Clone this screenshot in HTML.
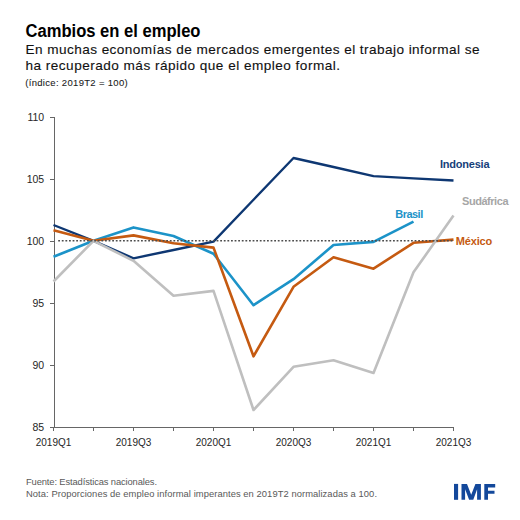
<!DOCTYPE html>
<html><head><meta charset="utf-8"><style>
html,body{margin:0;padding:0;background:#fff;}
svg{display:block;}
text{font-family:"Liberation Sans",sans-serif;}
.ax{stroke:#666;stroke-width:1;}
.tick{font-size:10px;fill:#262626;}
.ytk{font-size:10.5px;}
.hv{stroke-width:0.3px;paint-order:stroke;}
.ln{fill:none;stroke-width:2.6;stroke-linejoin:round;stroke-linecap:butt;}
</style></head><body>
<svg width="520" height="520" viewBox="0 0 520 520">
<rect width="520" height="520" fill="#fff"/>
<text x="25.5" y="36.9" textLength="175" lengthAdjust="spacingAndGlyphs" style="font-size:17.5px;font-weight:bold;" fill="#000">Cambios en el empleo</text>
<text x="25.5" y="53.6" textLength="454" lengthAdjust="spacing" style="font-size:13.6px;font-weight:normal;" fill="#111" stroke="#111" stroke-width="0.12">En muchas economías de mercados emergentes el trabajo informal se</text>
<text x="25.5" y="70.2" textLength="314.5" lengthAdjust="spacing" style="font-size:13.6px;font-weight:normal;" fill="#111" stroke="#111" stroke-width="0.12">ha recuperado más rápido que el empleo formal.</text>
<text x="25.2" y="85.7" textLength="102.5" lengthAdjust="spacing" style="font-size:9.5px;font-weight:normal;" fill="#1a1a1a" stroke="#1a1a1a" stroke-width="0.08">(índice: 2019T2 = 100)</text>
<line x1="54.5" y1="117" x2="54.5" y2="428" class="ax"/>
<line x1="54" y1="427.5" x2="454" y2="427.5" class="ax"/>
<line x1="50" y1="117.5" x2="54.5" y2="117.5" class="ax"/><text x="44.2" y="121.4" text-anchor="end" class="tick ytk">110</text><line x1="50" y1="179.5" x2="54.5" y2="179.5" class="ax"/><text x="44.2" y="183.4" text-anchor="end" class="tick ytk">105</text><line x1="50" y1="241.5" x2="54.5" y2="241.5" class="ax"/><text x="44.2" y="245.4" text-anchor="end" class="tick ytk">100</text><line x1="50" y1="303.5" x2="54.5" y2="303.5" class="ax"/><text x="44.2" y="307.4" text-anchor="end" class="tick ytk">95</text><line x1="50" y1="365.5" x2="54.5" y2="365.5" class="ax"/><text x="44.2" y="369.4" text-anchor="end" class="tick ytk">90</text><line x1="50" y1="427.5" x2="54.5" y2="427.5" class="ax"/><text x="44.2" y="431.4" text-anchor="end" class="tick ytk">85</text>
<line x1="53.5" y1="427" x2="53.5" y2="431" class="ax"/><line x1="93.5" y1="427" x2="93.5" y2="431" class="ax"/><line x1="133.5" y1="427" x2="133.5" y2="431" class="ax"/><line x1="173.5" y1="427" x2="173.5" y2="431" class="ax"/><line x1="213.5" y1="427" x2="213.5" y2="431" class="ax"/><line x1="253.5" y1="427" x2="253.5" y2="431" class="ax"/><line x1="293.5" y1="427" x2="293.5" y2="431" class="ax"/><line x1="333.5" y1="427" x2="333.5" y2="431" class="ax"/><line x1="373.5" y1="427" x2="373.5" y2="431" class="ax"/><line x1="413.5" y1="427" x2="413.5" y2="431" class="ax"/><line x1="453.5" y1="427" x2="453.5" y2="431" class="ax"/><text x="53.5" y="445.5" text-anchor="middle" class="tick">2019Q1</text><text x="133.5" y="445.5" text-anchor="middle" class="tick">2019Q3</text><text x="213.5" y="445.5" text-anchor="middle" class="tick">2020Q1</text><text x="293.5" y="445.5" text-anchor="middle" class="tick">2020Q3</text><text x="373.5" y="445.5" text-anchor="middle" class="tick">2021Q1</text><text x="453.5" y="445.5" text-anchor="middle" class="tick">2021Q3</text>
<polyline class="ln" style="stroke-width:2.35" stroke="#0e3772" points="53.5,225.0 93.5,240.8 133.5,258.3 173.5,250.0 213.5,241.6 253.5,199.8 293.5,158.0 333.5,167.0 373.5,176.2 413.5,178.3 453.5,180.5"/>
<polyline class="ln" stroke="#1c93c8" points="53.5,256.8 93.5,240.8 133.5,227.4 173.5,236.0 213.5,253.8 253.5,305.2 293.5,279.2 333.5,245.0 373.5,241.9 413.5,221.6"/>
<polyline class="ln" stroke="#c55a11" points="53.5,230.3 93.5,240.8 133.5,235.4 173.5,243.3 213.5,247.6 253.5,356.3 293.5,286.8 333.5,257.2 373.5,268.7 413.5,242.8 453.5,239.6"/>
<polyline class="ln" stroke="#bfbfbf" points="53.5,281.5 93.5,240.8 133.5,260.8 173.5,295.8 213.5,290.9 253.5,410.0 293.5,366.8 333.5,360.3 373.5,372.9 413.5,272.3 453.5,215.5"/>
<line x1="58.2" y1="240.8" x2="454" y2="240.8" stroke="#4d4d4d" stroke-width="1.6" stroke-dasharray="1.8 1.8"/>
<text x="440" y="168.3" textLength="49.5" lengthAdjust="spacing" style="font-size:11px;font-weight:bold;" fill="#173f7a">Indonesia</text>
<text x="462" y="204.8" textLength="46.5" lengthAdjust="spacing" style="font-size:11px;font-weight:bold;" fill="#a6a6a6">Sudáfrica</text>
<text x="395.2" y="217.7" textLength="28" lengthAdjust="spacing" style="font-size:11px;font-weight:bold;" fill="#1c93c8">Brasil</text>
<text x="455.8" y="244.6" textLength="36.5" lengthAdjust="spacing" style="font-size:11px;font-weight:bold;" fill="#c55a11">México</text>
<text x="26" y="485.0" textLength="131" lengthAdjust="spacing" style="font-size:9.4px;font-weight:normal;" fill="#595959">Fuente: Estadísticas nacionales.</text>
<text x="26" y="497.0" textLength="351" lengthAdjust="spacing" style="font-size:9.4px;font-weight:normal;" fill="#595959">Nota: Proporciones de empleo informal imperantes en 2019T2 normalizadas a 100.</text>
<g fill="#13489b">
<rect x="454.0" y="483.9" width="4.1" height="15.9"/>
<polygon points="461.5,499.8 461.5,483.9 467,483.9 471.2,494.7 475.4,483.9 480.9,483.9 480.9,499.8 477.1,499.8 477.1,489.2 473.3,499.8 469.1,499.8 465.1,489.2 465.1,499.8"/>
<polygon points="484.3,499.8 484.3,484.1 495.2,484.1 495.2,487.4 488,487.4 488,490.8 494.5,490.8 494.5,493.8 488,493.8 488,499.8"/>
</g>
</svg>
</body></html>
